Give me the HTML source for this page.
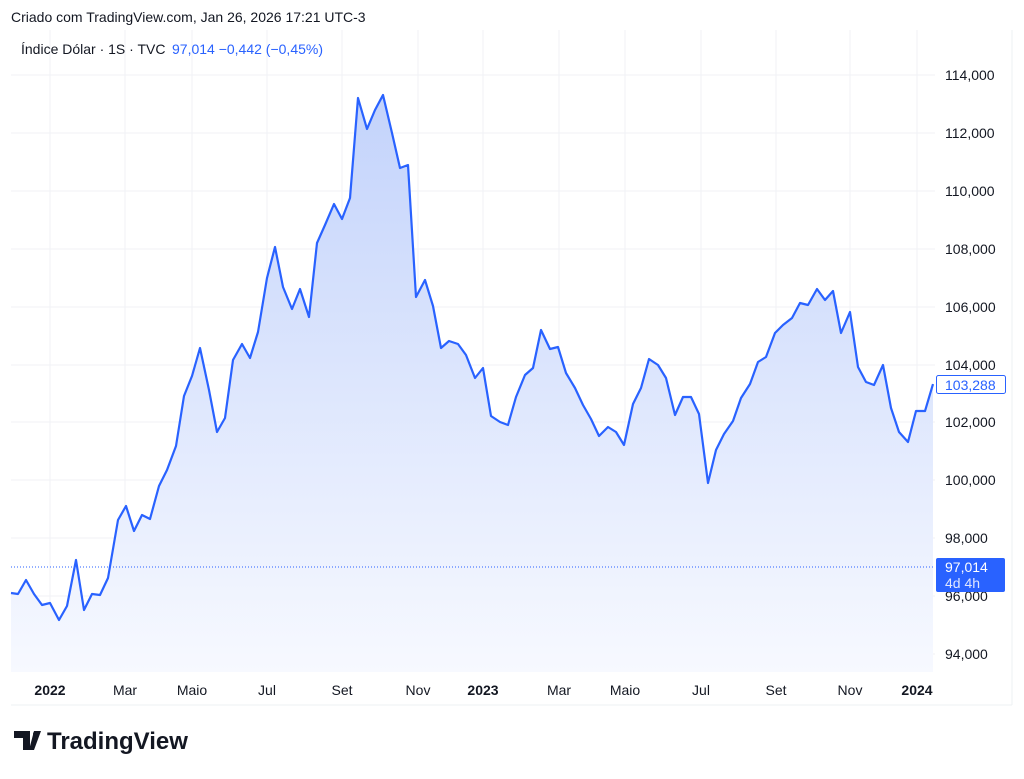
<!DOCTYPE html><html><head><style>body{margin:0;background:#fff;font-family:"Liberation Sans",sans-serif}</style></head><body>
<svg width="1024" height="774" xmlns="http://www.w3.org/2000/svg" font-family="Liberation Sans, sans-serif">
<defs><linearGradient id="g" x1="0" y1="0" x2="0" y2="1"><stop offset="0" stop-color="#c3d3fb"/><stop offset="1" stop-color="#f7f9ff"/></linearGradient></defs>
<text x="11" y="22" font-size="14" fill="#131722">Criado com TradingView.com, Jan 26, 2026 17:21 UTC-3</text>
<line x1="1012" y1="30" x2="1012" y2="705" stroke="#eef0f3"/>
<line x1="11" y1="705" x2="1012" y2="705" stroke="#eef0f3"/>
<g stroke="#f0f2f5">
<line x1="11" y1="75" x2="935" y2="75"/><line x1="11" y1="133" x2="935" y2="133"/><line x1="11" y1="191" x2="935" y2="191"/><line x1="11" y1="249" x2="935" y2="249"/><line x1="11" y1="307" x2="935" y2="307"/><line x1="11" y1="365" x2="935" y2="365"/><line x1="11" y1="422" x2="935" y2="422"/><line x1="11" y1="480" x2="935" y2="480"/><line x1="11" y1="538" x2="935" y2="538"/><line x1="11" y1="596" x2="935" y2="596"/><line x1="11" y1="654" x2="935" y2="654"/>
<line x1="50" y1="30" x2="50" y2="672"/><line x1="125" y1="30" x2="125" y2="672"/><line x1="192" y1="30" x2="192" y2="672"/><line x1="267" y1="30" x2="267" y2="672"/><line x1="342" y1="30" x2="342" y2="672"/><line x1="418" y1="30" x2="418" y2="672"/><line x1="483" y1="30" x2="483" y2="672"/><line x1="559" y1="30" x2="559" y2="672"/><line x1="625" y1="30" x2="625" y2="672"/><line x1="701" y1="30" x2="701" y2="672"/><line x1="776" y1="30" x2="776" y2="672"/><line x1="850" y1="30" x2="850" y2="672"/><line x1="917" y1="30" x2="917" y2="672"/>
</g>
<text x="21" y="54" font-size="14" fill="#131722">Índice Dólar · 1S · TVC</text>
<text x="172" y="54" font-size="14" fill="#2962ff">97,014  −0,442 (−0,45%)</text>
<path fill="url(#g)" d="M11,593 L18,594 26,580 34,594 42,605 50,603 59,620 67,606 76,560 84,610 92,594 100,595 108,578 118,520 126,506 134,531 142,515 150,519 159,486 167,470 176,446 184,396 192,376 200,348 209,390 217,432 225,418 233,360 242,344 250,358 258,332 267,278 275,247 283,287 292,309 300,289 309,317 317,243 325,225 334,204 342,219 350,198 358,98 367,129 375,110 383,95 392,133 400,168 408,165 416,297 425,280 433,306 441,348 449,341 458,344 466,355 475,378 483,368 491,416 500,422 508,425 516,397 525,375 533,368 541,330 550,349 558,347 566,373 575,388 583,405 591,419 599,436 608,427 616,432 624,445 633,404 641,388 649,359 658,365 666,378 675,415 683,397 691,397 699,414 708,483 716,450 724,434 733,421 741,398 750,384 758,362 766,357 775,333 783,325 792,318 800,303 808,305 817,289 825,300 833,291 841,333 850,312 858,367 866,382 874,385 883,365 891,408 899,432 908,442 916,411 925,411 933,384 L933,672 L11,672Z"/>
<polyline fill="none" stroke="#2962ff" stroke-width="2.2" stroke-linejoin="round" points="11,593 18,594 26,580 34,594 42,605 50,603 59,620 67,606 76,560 84,610 92,594 100,595 108,578 118,520 126,506 134,531 142,515 150,519 159,486 167,470 176,446 184,396 192,376 200,348 209,390 217,432 225,418 233,360 242,344 250,358 258,332 267,278 275,247 283,287 292,309 300,289 309,317 317,243 325,225 334,204 342,219 350,198 358,98 367,129 375,110 383,95 392,133 400,168 408,165 416,297 425,280 433,306 441,348 449,341 458,344 466,355 475,378 483,368 491,416 500,422 508,425 516,397 525,375 533,368 541,330 550,349 558,347 566,373 575,388 583,405 591,419 599,436 608,427 616,432 624,445 633,404 641,388 649,359 658,365 666,378 675,415 683,397 691,397 699,414 708,483 716,450 724,434 733,421 741,398 750,384 758,362 766,357 775,333 783,325 792,318 800,303 808,305 817,289 825,300 833,291 841,333 850,312 858,367 866,382 874,385 883,365 891,408 899,432 908,442 916,411 925,411 933,384"/>
<line x1="11" y1="567" x2="935" y2="567" stroke="#2962ff" stroke-width="1" stroke-dasharray="1,2"/>
<g font-size="14" fill="#131722">
<text x="945" y="80">114,000</text><text x="945" y="138">112,000</text><text x="945" y="196">110,000</text><text x="945" y="254">108,000</text><text x="945" y="312">106,000</text><text x="945" y="370">104,000</text><text x="945" y="427">102,000</text><text x="945" y="485">100,000</text><text x="945" y="543">98,000</text><text x="945" y="601">96,000</text><text x="945" y="659">94,000</text>
</g>
<rect x="936.5" y="375.5" width="69" height="18" fill="#fff" stroke="#2962ff" rx="2"/>
<text x="945" y="390" font-size="14" fill="#2962ff">103,288</text>
<rect x="936" y="558" width="69" height="34" fill="#2962ff" rx="2"/>
<text x="945" y="572" font-size="14" fill="#fff">97,014</text><text x="945" y="588" font-size="14" fill="#dfe6ff">4d 4h</text>
<g font-size="14" fill="#131722" text-anchor="middle">
<text x="50" y="695" font-weight="bold">2022</text><text x="125" y="695">Mar</text><text x="192" y="695">Maio</text><text x="267" y="695">Jul</text><text x="342" y="695">Set</text><text x="418" y="695">Nov</text><text x="483" y="695" font-weight="bold">2023</text><text x="559" y="695">Mar</text><text x="625" y="695">Maio</text><text x="701" y="695">Jul</text><text x="776" y="695">Set</text><text x="850" y="695">Nov</text><text x="917" y="695" font-weight="bold">2024</text>
</g>
<path d="M14,731 h16 v19 h-7 v-12 h-9z M34,731 h7 l-7,19 h-5z" fill="#131722"/><circle cx="36" cy="734" r="3" fill="#131722"/>
<text x="47" y="749" font-size="24" font-weight="bold" fill="#131722">TradingView</text>
</svg>
</body></html>
